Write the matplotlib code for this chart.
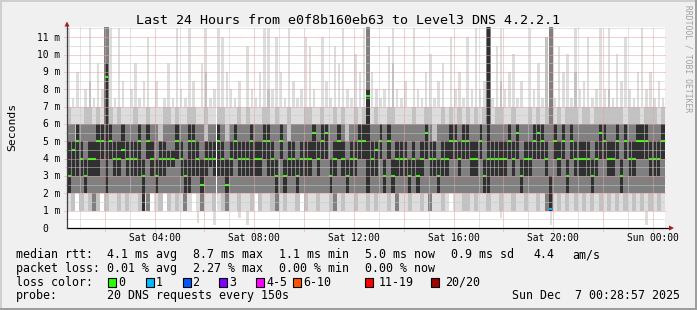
import numpy as np
import matplotlib.pyplot as plt
from matplotlib.patches import Rectangle, Polygon
import matplotlib.transforms as mtransforms

plt.rcParams['font.family'] = ['DejaVu Sans Mono', 'DejaVu Sans']

start = 28/60 + 57/3600      # Sat 00:28:57 (hours after Sat 00:00)
step = 10/60

# outer smoke, min .. max
hi1 = [11.5, 7.5, 9, 7, 8, 11.5, 7.5, 9.5, 8, 11.6, 11.5, 7.5, 11.5, 8.5, 7, 8, 9.5, 7.5, 8.5, 11, 7, 8.5, 7, 7.5,
       9.5, 7.5, 11.5, 8, 7.5, 11.5, 8.5, 7, 9.5, 11.5, 7.5, 8, 11.5, 11, 9, 8, 7.5, 8.5, 7, 10.5, 8, 7.5, 9, 11.5,
       11.5, 8, 11, 9, 7.5, 11.5, 8.5, 7.5, 8, 11, 10.5, 8, 7, 11, 8.5, 7.5, 10.5, 9.5, 11.5, 8, 7.5, 10, 9, 11.5,
       11.6, 9, 8, 7.5, 8, 10.5, 11.5, 8, 7.5, 8.5, 7, 11.5, 8, 7.5, 9, 10, 7.5, 8.5, 9.5, 7, 11, 8, 9, 7.5,
       11, 8, 11.5, 8, 8.5, 11.6, 7.5, 10.5, 11.5, 8, 9, 10, 7.5, 8.5, 7, 11.5, 8, 9.5, 7.5, 11, 11.6, 7.5, 10.5, 9,
       10, 7.5, 11.5, 8, 8.5, 11, 7.5, 8, 11.5, 8, 11.5, 7.5, 10, 8.5, 11, 8, 7.5, 9, 11.5, 8, 9, 7.5, 8.5, 7.5]
lo1 = [1, 1, 2, 1, 1, 1, 1, 1, 2, 1, 1, 1, 1, 1, 1, 1, 1, 1, 1, 1, 2, 1, 1, 2,
       1, 1, 1, 1, 1, 1, 2, 0.3, 1, 1, 1, 0.2, 1, 1, 1, 1, 1, 0.6, 1, 0.2, 1, 2, 1, 1,
       1, 1, 1, 1, 1, 1, 1, 1, 2, 1, 1, 1, 1, 1, 1, 1, 1, 1, 1, 1, 1, 1, 1, 1,
       1, 1, 1, 1, 1, 1, 1, 1, 1, 1, 1, 1, 1, 1, 1, 1, 1, 1, 1, 1, 2, 1, 1, 1,
       1, 1, 1, 1, 1, 1, 1, 1, 0.6, 1, 1, 1, 1, 1, 1, 1, 1, 1, 1, 1, 0.2, 1, 1, 1,
       1, 1, 1, 1, 1, 1, 1, 1, 1, 1, 1, 1, 1, 1, 1, 1, 1, 1, 1, 0.2, 1, 1, 1, 1]

# second band
hi2 = [7, 6, 6, 6, 7, 8.5, 6, 7, 6, 11.6, 7, 6, 7, 6, 6, 6, 7, 6, 6, 7, 6, 6, 6, 7,
       7, 6, 7, 6, 6, 7, 7, 6, 6, 9, 6, 6, 7, 7, 6, 6, 6, 7, 6, 7, 6, 6, 6, 7,
       8, 6, 7, 6, 6, 7, 6, 6, 6, 7, 7, 6, 6, 7, 6, 6, 7, 6, 7, 6, 6, 7, 6, 7,
       11.6, 6, 7, 6, 6, 7, 9.5, 6, 6, 6, 6, 7, 6, 6, 7, 7, 6, 6, 7, 6, 7, 6, 7, 6,
       7, 6, 7, 6, 7, 11.6, 6, 7, 8.5, 6, 6, 7, 6, 6, 6, 7, 6, 7, 6, 11, 11.6, 6, 7, 6,
       7, 7, 9, 6, 7, 7, 6, 7, 7, 7, 8, 7, 7, 7, 6, 7, 7, 7, 6, 7, 7, 7, 6, 7]
lo2 = [2, 1, 2, 1, 2, 1, 1, 1, 2, 1, 2, 2, 1, 2, 1, 2, 2, 1, 2, 1, 2, 2, 1, 2,
       1, 2, 1, 2, 1, 2, 2, 2, 1, 2, 2, 1, 2, 1, 1, 2, 2, 1, 2, 2, 1, 2, 1, 2,
       2, 1, 1, 2, 1, 2, 2, 1, 2, 1, 2, 2, 1, 2, 2, 1, 1, 2, 1, 2, 2, 1, 2, 2,
       1, 2, 1, 2, 2, 1, 2, 1, 2, 2, 1, 2, 2, 1, 2, 1, 2, 2, 1, 2, 2, 2, 2, 1,
       1, 2, 1, 2, 2, 1, 2, 2, 1, 2, 2, 1, 2, 2, 1, 2, 2, 1, 2, 1, 1, 2, 1, 2,
       1, 2, 1, 2, 1, 2, 1, 2, 1, 2, 1, 2, 1, 2, 1, 2, 1, 2, 1, 2, 1, 2, 1, 2]

# inner band
hi3 = [6, 6, 5, 6, 6, 6, 6, 6, 6, 11.6, 6, 6, 6, 5, 6, 6, 6, 6, 6, 6, 6, 6, 5, 6,
       6, 6, 6, 6, 6, 6, 6, 6, 6, 5, 6, 6, 6, 6, 5, 6, 6, 6, 6, 6, 6, 6, 6, 6,
       6, 6, 6, 6, 6, 5, 6, 6, 6, 6, 6, 6, 6, 6, 6, 6, 6, 6, 6, 5, 6, 6, 6, 6,
       11.6, 6, 6, 6, 6, 6, 6, 6, 6, 6, 6, 6, 6, 6, 6, 6, 5, 6, 6, 6, 6, 6, 6, 6,
       6, 6, 6, 6, 6, 11.6, 6, 6, 6, 6, 6, 6, 6, 6, 6, 6, 6, 6, 6, 6, 11.6, 6, 6, 6,
       6, 6, 6, 6, 6, 6, 6, 6, 6, 6, 6, 6, 6, 6, 6, 6, 6, 6, 6, 6, 6, 6, 6, 6]
lo3 = [2, 2, 2, 2, 2, 2, 1, 2, 2, 2, 2, 2, 2, 2, 2, 2, 2, 2, 2, 1, 2, 2, 2, 2,
       2, 2, 2, 2, 1, 2, 2, 2, 1, 2, 2, 2, 2, 2, 1, 2, 2, 2, 2, 2, 2, 2, 2, 2,
       2, 2, 1, 2, 2, 2, 2, 2, 2, 2, 2, 2, 2, 2, 2, 2, 1, 2, 2, 2, 2, 2, 2, 2,
       2, 2, 2, 2, 2, 2, 2, 1, 2, 2, 2, 2, 2, 2, 2, 1, 2, 2, 2, 2, 2, 2, 2, 2,
       2, 2, 2, 2, 2, 2, 2, 2, 2, 2, 2, 2, 2, 2, 2, 2, 2, 2, 2, 1, 1, 2, 2, 2,
       2, 2, 2, 2, 2, 2, 2, 2, 2, 2, 2, 2, 2, 2, 2, 2, 2, 2, 2, 2, 2, 2, 2, 2]

# dark core around the median
hi4 = [5, 5, 6, 5, 4, 5, 5, 6, 6, 9.5, 6, 5, 5, 6, 5, 5, 5, 6, 4, 6, 5, 4, 5, 5,
       4.5, 4.5, 6, 5, 4, 6, 6, 5, 4, 5, 5, 5, 6, 5, 4, 5, 6, 5, 5, 5, 6, 5, 5, 6,
       6, 5, 4, 6, 4, 5, 5, 4, 5, 5, 5, 6, 5, 6, 6, 4, 5, 6, 5, 4, 5, 5, 6, 6,
       8, 5, 5, 6, 4, 6, 4, 5, 5, 5, 4, 5, 4, 5, 6, 5, 5, 4, 5, 5, 6, 6, 5, 6,
       6, 5, 5, 6, 4, 11.6, 5, 5, 5, 5, 6, 5, 6, 4, 5, 5, 6, 6, 6, 5, 3, 6, 5, 6,
       4, 6, 5, 5, 5, 5, 4, 5, 6, 6, 5, 5, 6, 4, 6, 5, 5, 6, 6, 6, 5, 5, 5, 6]
lo4 = [2, 3, 3, 3, 2, 3, 3, 3, 4, 2, 4, 3, 3, 4, 3, 3, 3, 3, 1, 4, 3, 2, 3, 3,
       3.5, 3.5, 4, 3, 2, 2, 3, 3, 2, 3, 3.5, 3, 3, 3, 2, 3, 4, 3, 3, 3, 3, 3, 3, 4,
       3, 3, 2, 4, 2, 3, 3, 2, 3, 3, 3, 4, 3, 4, 4, 2, 3, 4, 3, 2, 3, 3, 4, 4,
       2, 3, 3, 4, 2, 4, 2, 3, 3, 3, 2, 3, 2, 3, 4, 3, 3, 2, 3, 3, 4, 4, 3, 4,
       4, 3, 3, 4, 2, 2, 3, 3, 3, 3, 4, 3, 4, 2, 3, 3, 4, 4, 4, 3, 1, 4, 3, 4,
       2, 4, 3, 3, 3, 3, 2, 3, 4, 4, 3, 3, 4, 2, 4, 3, 3, 4, 4, 4, 3, 3, 3, 4]

med = [3, 4.5, 5, 4, 3, 4, 4, 5, 5, 8.7, 5, 4, 4, 4.5, 4, 4, 4, 5, 3, 5, 4, 3, 4, 4,
       4, 4, 5, 4, 3, 5, 5, 4, 2.5, 4, 4, 4, 5, 4, 2.5, 4, 5, 4, 4, 4, 5, 4, 4, 5,
       5, 4, 3, 5, 3, 4, 4, 3, 4, 4, 4, 5.5, 4, 5, 5.5, 3, 4, 5, 4, 3, 4, 4, 5, 5,
       7.6, 4, 4.5, 5, 3, 5, 3, 4, 4, 4, 3, 4, 3, 4, 5.5, 4, 4, 3, 4, 4, 5, 5, 4, 5,
       5, 4, 4, 5, 3, 4, 4, 4, 4, 4, 5, 4, 5.5, 3, 4, 4, 5, 5.5, 5, 4, 1.1, 5, 4, 5,
       3, 5, 4, 4, 4, 4, 3, 4, 5.5, 5, 4, 4, 5, 3, 5, 4, 4, 5, 5, 5, 4, 4, 4, 5]
loss = {116: 1}    # buckets with lost pings

loss_labels = ['0', '1', '2', '3', '4-5', '6-10', '11-19', '20/20']
loss_colors = ['#26ff00', '#00b8ff', '#0059ff', '#7e00ff', '#ff00ff', '#ff5500', '#ff0000', '#a00000']

hour_ticks = [4, 8, 12, 16, 20, 24]
hour_labels = ['Sat 04:00', 'Sat 08:00', 'Sat 12:00', 'Sat 16:00', 'Sat 20:00', 'Sun 00:00']

W, H = 697, 310
def fx(px):
    return px / W
def fy(py):
    return 1 - py / H

fig = plt.figure(figsize=(W/100, H/100), dpi=100)
fig.patch.set_facecolor('#f0f0f0')

# 3d frame
fig.add_artist(Rectangle((0, fy(2)), 1, 2/H, transform=fig.transFigure, color='#cfcfcf', lw=0))
fig.add_artist(Rectangle((0, 0), 2/W, 1, transform=fig.transFigure, color='#cfcfcf', lw=0))
fig.add_artist(Rectangle((0, 0), 1, 2/H, transform=fig.transFigure, color='#9e9e9e', lw=0))
fig.add_artist(Rectangle((fx(W-2), 0), 2/W, 1, transform=fig.transFigure, color='#9e9e9e', lw=0))

ax = fig.add_axes([fx(67), fy(228), 598/W, 201/H])
ax.set_facecolor('white')
ymax = 201/17.35
ax.set_xlim(start, start + 24)
ax.set_ylim(0, ymax)
for s in ax.spines.values():
    s.set_visible(False)
ax.set_xticks([])
ax.set_yticks([])

n = len(med)
t = start + step*np.arange(n)
tc = t + step/2

def bars(bottom, top, frac, color):
    h = np.maximum(top - bottom, 0)
    ax.bar(tc, h, width=step*frac, bottom=bottom, color=color, lw=0, zorder=1)

def band(lo, hi, color, frac_in=1.0, frac_out=0.6):
    # the body between 1 and 7 ms is dense, the spikes outside it are thin
    lo = np.array(lo, float)
    hi = np.array(hi, float)
    a = np.clip(lo, 1, 7)
    b = np.clip(hi, 1, 7)
    bars(a, b, frac_in, color)
    bars(np.maximum(lo, 7), hi, frac_out, color)
    bars(lo, np.minimum(hi, 1), frac_out, color)

band(lo1, hi1, '#dddddd')
band(lo2, hi2, '#c2c2c2')
band(lo3, hi3, '#808080', frac_out=1.0)
band(lo4, hi4, '#303030', frac_in=0.8, frac_out=0.8)

mcol = [loss_colors[loss.get(i, 0)] for i in range(n)]
ax.hlines(med, tc - 0.4*step, tc + 0.4*step, colors=mcol, lw=1.5, zorder=3)

# grid on top, rrdtool style
dots = (0, (1, 1))
px_h = 24/598
px_v = ymax/201
for h in range(1, 25):
    major = h % 2 == 0
    ax.vlines(h, -3*px_v if major else -2*px_v, ymax, colors='#e8a0a0' if major else '#c8c8c8',
              lw=0.72, linestyles=dots, zorder=4, clip_on=False)
for k in range(1, 24):
    v = k/2
    major = k % 2 == 0
    ax.hlines(v, start - (3*px_h if major else 2*px_h), start + 24,
              colors='#e8a0a0' if major else '#c8c8c8', lw=0.72, linestyles=dots, zorder=4, clip_on=False)

# axes with arrows
ax.plot([start, start + 24 + 6*px_h], [0, 0], color='black', lw=0.9, zorder=5, clip_on=False)
ax.plot([start, start], [0, ymax + 2*px_v], color='#404040', lw=0.9, zorder=5, clip_on=False)
fig.add_artist(Polygon([(fx(669), fy(225.5)), (fx(669), fy(230.5)), (fx(674), fy(228))],
                       closed=True, transform=fig.transFigure, color='#a02020', lw=0))
fig.add_artist(Polygon([(fx(64.5), fy(26.5)), (fx(69.5), fy(26.5)), (fx(67), fy(21.5))],
                       closed=True, transform=fig.transFigure, color='#a02020', lw=0))

# tick labels
xlab_tr = mtransforms.blended_transform_factory(ax.transData, fig.transFigure)
for h, lab in zip(hour_ticks, hour_labels):
    ax.text(h, fy(240.7), lab, transform=xlab_tr, ha='center', va='baseline', fontsize=6.9)
ylab_tr = mtransforms.offset_copy(mtransforms.blended_transform_factory(fig.transFigure, ax.transData),
                                  fig=fig, y=-3.5, units='dots')
for v in range(12):
    lab = '%d m' % v if v else '0'
    ax.text(fx(60) if v else fx(48), v, lab, transform=ylab_tr, ha='right', va='baseline', fontsize=6.9)

fig.text(fx(348), fy(24), 'Last 24 Hours from e0f8b160eb63 to Level3 DNS 4.2.2.1',
         ha='center', va='baseline', fontsize=9.6)
fig.text(fx(12), fy(127), 'Seconds', rotation=90, ha='center', va='center', fontsize=8.2)
fig.text(fx(688), fy(5), 'RRDTOOL / TOBI OETIKER', rotation=270, ha='center', va='top',
         fontsize=5.8, color='#a0a0a0')

# legend
fs = 8.4
rows = [258, 271.8, 285.6, 299.4]
cols = [107.3, 193.3, 279, 365, 451]
fig.text(fx(16), fy(rows[0]), 'median rtt:', fontsize=fs, va='baseline')
for x, s in zip(cols + [533.3, 572.3], ['4.1 ms avg', '8.7 ms max', '1.1 ms min', '5.0 ms now',
                                        '0.9 ms sd', '4.4', 'am/s']):
    fig.text(fx(x), fy(rows[0]), s, fontsize=fs, va='baseline')
fig.text(fx(16), fy(rows[1]), 'packet loss:', fontsize=fs, va='baseline')
for x, s in zip(cols, ['0.01 % avg', '2.27 % max', '0.00 % min', '0.00 % now']):
    fig.text(fx(x), fy(rows[1]), s, fontsize=fs, va='baseline')
fig.text(fx(16), fy(rows[2]), 'loss color:', fontsize=fs, va='baseline')
box_x = [108, 145.5, 182.5, 219, 256, 293, 365, 431]
lab_x = [118, 155.5, 192.5, 229, 266, 303, 379, 445]
for bx, lx, lab, c in zip(box_x, lab_x, loss_labels, loss_colors):
    fig.add_artist(Rectangle((fx(bx), fy(286.5)), 8/W, 8.5/H, transform=fig.transFigure,
                             facecolor=c, edgecolor='black', lw=0.8))
    fig.text(fx(lx), fy(rows[2]), lab, fontsize=fs, va='baseline')
fig.text(fx(16), fy(rows[3]), 'probe:', fontsize=fs, va='baseline')
fig.text(fx(107.3), fy(rows[3]), '20 DNS requests every 150s', fontsize=fs, va='baseline')
fig.text(fx(680), fy(rows[3]), 'Sun Dec  7 00:28:57 2025', fontsize=fs, va='baseline', ha='right')

fig.savefig('out.png', dpi=100, facecolor=fig.get_facecolor())
